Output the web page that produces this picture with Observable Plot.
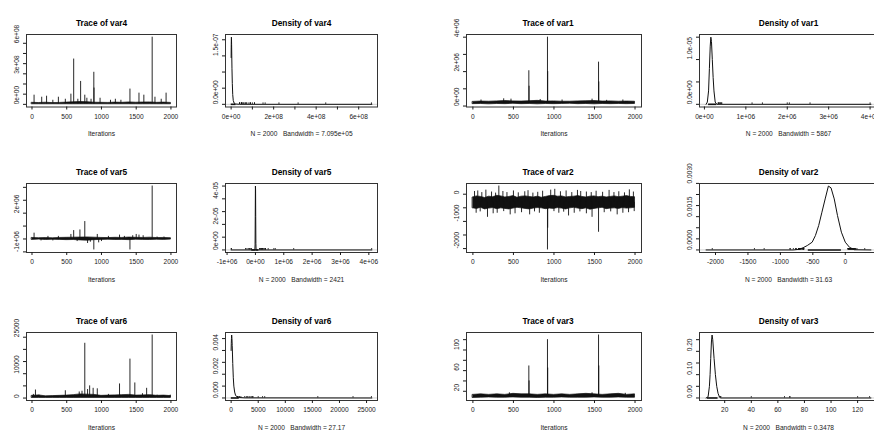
<!DOCTYPE html>
<html><head><meta charset="utf-8">
<script src="https://cdn.jsdelivr.net/npm/d3@7"></script>
<script src="https://cdn.jsdelivr.net/npm/@observablehq/plot@0.6"></script>
<style>
html,body{margin:0;padding:0;background:#fff;overflow:hidden;}
#wrap{position:relative;width:874px;height:434px;overflow:hidden;background:#fff;}
#wrap svg{position:absolute;overflow:visible;}
</style></head><body><div id="wrap"></div>
<script>
// ---------- iteration bins ----------
const bins100 = [0,100,200,300,400,500,600,700,800,900,1000,1100,1200,1300,1400,1500,1600,1700,1800,1900,2000];
const bins50 = [0,50,100,150,200,250,300,350,400,450,500,550,600,650,700,750,800,850,900,950,1000,1050,1100,1150,1200,1250,1300,1350,1400,1450,1500,1550,1600,1650,1700,1750,1800,1850,1900,1950,2000];
const iterTicks = [0,500,1000,1500,2000];
const iterLabels = ["0","500","1000","1500","2000"];

// ---------- var4 ----------
const var4Lo = [4e5,5e5,3e5,6e5,4e5,5e5,3e5,6e5,5e5,4e5,5e5,3e5,4e5,6e5,5e5,4e5,3e5,5e5,4e5,5e5,4e5];
const var4Hi = [1.5e7,1.3e7,1.6e7,1.2e7,1.4e7,1.7e7,2.0e7,2.3e7,2.1e7,1.6e7,1.5e7,1.4e7,1.7e7,1.5e7,1.9e7,1.6e7,1.8e7,1.9e7,1.5e7,1.7e7,1.4e7];
const var4SpikeIter = [30,140,210,300,380,480,560,600,660,700,760,790,850,890,893,980,1130,1200,1280,1410,1540,1610,1730,1770,1860,1930];
const var4SpikeVal = [0.9e8,0.7e8,0.8e8,0.4e8,0.7e8,0.5e8,1.0e8,4.45e8,0.5e8,2.25e8,0.9e8,0.6e8,0.5e8,3.15e8,1.6e8,0.6e8,0.4e8,0.5e8,0.4e8,1.5e8,1.1e8,0.9e8,6.6e8,0.7e8,0.5e8,1.1e8];
const var4Level = 5e6;
const var4DensX = [0,4e5,8e5,1.2e6,1.6e6,2.2e6,3e6,4e6,5.5e6,7.5e6,1e7,1.4e7,2e7,4e7,6.62e8];
const var4DensY = [1.45e-7,1.75e-7,1.95e-7,2.08e-7,2.05e-7,1.85e-7,1.5e-7,1.1e-7,0.65e-7,0.3e-7,0.12e-7,0.04e-7,0.01e-7,0,0];
const var4Bw = "7.095e+05";
const var4TraceYTicks = [0,1e8,2e8,3e8,4e8,5e8,6e8];
const var4TraceYLabels = ["0e+00","","","3e+08","","","6e+08"];
const var4DensXTicks = [0,1e8,2e8,3e8,4e8,5e8,6e8];
const var4DensXLabels = ["0e+00","","2e+08","","4e+08","","6e+08"];
const var4DensYTicks = [0,5e-8,1e-7,1.5e-7,2e-7];
const var4DensYLabels = ["0.0e+00","","","1.5e-07",""];

// ---------- var1 ----------
const var1Lo = [1.1e5,1.2e5,1.0e5,1.2e5,1.1e5,1.3e5,1.1e5,1.2e5,1.0e5,1.2e5,1.1e5,1.2e5,1.3e5,1.1e5,1.2e5,1.0e5,1.2e5,1.1e5,1.2e5,1.1e5,1.2e5];
const var1Hi = [2.4e5,2.6e5,2.5e5,2.7e5,2.9e5,2.7e5,2.6e5,2.8e5,3.0e5,2.6e5,2.7e5,2.5e5,2.5e5,2.7e5,2.8e5,2.9e5,2.6e5,2.7e5,2.5e5,2.6e5,2.5e5];
const var1SpikeIter = [100,380,470,690,693,830,920,923,1100,1470,1550,1553,1650,1850];
const var1SpikeVal = [0.35e6,0.42e6,0.4e6,2.05e6,1.15e6,0.38e6,4.0e6,2.0e6,0.35e6,0.4e6,2.55e6,1.4e6,0.33e6,0.35e6];
const var1Level = 1.8e5;
const var1DensX = [0.04e6,0.07e6,0.10e6,0.12e6,0.14e6,0.155e6,0.17e6,0.19e6,0.21e6,0.23e6,0.26e6,0.3e6,4.02e6];
const var1DensY = [0,0.05e-5,0.3e-5,0.8e-5,1.3e-5,1.5e-5,1.4e-5,1.0e-5,0.6e-5,0.3e-5,0.05e-5,0,0];
const var1Bw = "5867";
const var1TraceYTicks = [0,1e6,2e6,3e6,4e6];
const var1TraceYLabels = ["0e+00","","2e+06","","4e+06"];
const var1DensXTicks = [0,1e6,2e6,3e6,4e6];
const var1DensXLabels = ["0e+00","1e+06","2e+06","3e+06","4e+06"];
const var1DensYTicks = [0,5e-6,1e-5,1.5e-5];
const var1DensYLabels = ["0.0e+00","","1.0e-05",""];

// ---------- var5 ----------
const var5Lo = [-7e4,-5e4,-8e4,-6e4,-7e4,-9e4,-8e4,-1.1e5,-1.3e5,-9e4,-7e4,-6e4,-8e4,-7e4,-9e4,-6e4,-7e4,-8e4,-6e4,-7e4,-5e4];
const var5Hi = [8e4,6e4,7e4,5e4,8e4,9e4,1.0e5,1.1e5,1.2e5,1.0e5,8e4,7e4,9e4,8e4,1.1e5,9e4,8e4,1.0e5,7e4,8e4,6e4];
const var5SpikeIter = [30,130,230,300,380,560,600,650,690,760,800,840,890,940,960,1000,1100,1260,1330,1410,1450,1500,1540,1600,1730,1800,1900];
const var5SpikeVal = [0.45e6,-0.15e6,0.2e6,-0.15e6,0.2e6,0.35e6,0.65e6,-0.2e6,0.7e6,1.35e6,-0.35e6,-0.25e6,-0.85e6,0.35e6,-0.3e6,-0.2e6,0.2e6,0.3e6,0.2e6,-0.85e6,0.25e6,0.35e6,0.3e6,0.25e6,4.1e6,0.15e6,0.15e6];
const var5Level = 0;
const var5DensX = [-0.857e6,-2e4,-1.2e4,-6e3,0,5e3,1e4,1.6e4,2.4e4,4.107e6];
const var5DensY = [0,0,0.4e-5,2.6e-5,5.0e-5,4.7e-5,2.6e-5,0.5e-5,0,0];
const var5Bw = "2421";
const var5TraceYTicks = [-1e6,0,1e6,2e6,3e6,4e6];
const var5TraceYLabels = ["-1e+06","","","2e+06","",""];
const var5DensXTicks = [-1e6,0,1e6,2e6,3e6,4e6];
const var5DensXLabels = ["-1e+06","0e+00","1e+06","2e+06","3e+06","4e+06"];
const var5DensYTicks = [0,1e-5,2e-5,3e-5,4e-5,5e-5];
const var5DensYLabels = ["0e+00","","2e-05","","4e-05",""];

// ---------- var2 ----------
const var2Lo = [-520,-540,-500,-560,-530,-510,-550,-520,-540,-560,-530,-500,-520,-540,-560,-530,-510,-520,-550,-530,-540,-510,-530,-560,-520,-500,-530,-550,-520,-570,-540,-520,-500,-550,-530,-520,-540,-510,-530,-520,-500];
const var2Hi = [-120,-80,-100,-140,-90,-110,-60,-80,-120,-100,-70,-130,-90,-80,-100,-120,-90,-130,-100,-70,-60,-90,-80,-120,-100,-90,-70,-100,-120,-90,-80,-110,-90,-120,-100,-80,-110,-90,-70,-100,-110];
const var2SpikeIter = [20,60,110,160,230,280,320,370,420,500,560,640,680,740,800,860,960,1010,1080,1150,1220,1290,1330,1400,1460,1520,1600,1680,1740,1800,1870,1930,1980,
  40,90,180,250,300,380,460,520,600,700,760,820,920,923,1000,1060,1120,1180,1250,1320,1400,1470,1550,1620,1700,1780,1850,1920,1990];
const var2SpikeVal = [100,120,60,150,80,40,300,100,60,120,50,90,130,40,70,110,150,180,90,120,60,140,100,80,60,110,70,140,60,90,50,160,80,
  -700,-650,-850,-720,-700,-640,-760,-720,-680,-760,-650,-700,-2050,-1250,-640,-700,-660,-800,-700,-650,-720,-850,-1400,-680,-650,-760,-700,-680,-640];
const var2Level = -300;
const var2DensX = [-2145,-800,-710,-650,-585,-510,-460,-410,-360,-310,-260,-220,-170,-120,-60,0,65,140,395];
const var2DensY = [0,0,0.00003,0.0001,0.0002,0.00035,0.00065,0.0011,0.0017,0.0023,0.00288,0.0028,0.0023,0.00155,0.0008,0.00035,0.00012,0.00001,0];
const var2Bw = "31.63";
const var2TraceYTicks = [-2000,-1500,-1000,-500,0];
const var2TraceYLabels = ["-2000","","-1000","","0"];
const var2DensXTicks = [-2000,-1500,-1000,-500,0];
const var2DensXLabels = ["-2000","-1500","-1000","-500","0"];
const var2DensYTicks = [0,0.0005,0.001,0.0015,0.002,0.0025,0.003];
const var2DensYLabels = ["0.0000","","","0.0015","","","0.0030"];

// ---------- var6 ----------
const var6Lo = [40,50,30,60,40,50,30,60,50,40,50,30,40,60,50,40,30,50,40,50,40];
const var6Hi = [900,1100,700,800,900,1000,1200,1500,1400,1300,900,1000,1100,1200,1300,1000,1100,1200,900,1000,800];
const var6SpikeIter = [20,50,100,480,680,720,760,800,830,880,940,1100,1260,1410,1480,1590,1650,1730,1800,1990];
const var6SpikeVal = [1500,3300,1200,3000,2500,2800,22500,3500,5000,4000,3800,1500,5800,16000,6200,1800,4000,25900,1200,1200];
const var6Level = 300;
const var6DensX = [0,30,60,100,150,200,250,300,400,500,650,800,1000,1500,2500,25980];
const var6DensY = [0.0040,0.0046,0.0050,0.0053,0.0050,0.0044,0.0037,0.0029,0.0017,0.0010,0.0005,0.00025,0.00012,0.00004,0.00001,0];
const var6Bw = "27.17";
const var6TraceYTicks = [0,5000,10000,15000,20000,25000];
const var6TraceYLabels = ["0","","10000","","","25000"];
const var6DensXTicks = [0,5000,10000,15000,20000,25000];
const var6DensXLabels = ["0","5000","10000","15000","20000","25000"];
const var6DensYTicks = [0,0.001,0.002,0.003,0.004,0.005];
const var6DensYLabels = ["0.000","","0.002","","0.004",""];

// ---------- var3 ----------
const var3Lo = [7,7.5,8,7.5,7.5,8,7.5,7.5,7,7.5,7.5,8,7.5,7.5,7.5,8,7.5,7.5,8,7.5,7.5];
const var3Hi = [13,14,13,14,13,15,14,14,13,14,13,14,13,14,15,14,13,14,15,13,14];
const var3SpikeIter = [450,690,693,920,923,1470,1550,1553,1880];
const var3SpikeVal = [17,69,40,120,65,17,129,69,16];
const var3Level = 10;
const var3DensX = [6,7.5,8.5,9.0,9.5,10,10.5,11,11.5,12,13,14,15,16,17,130];
const var3DensY = [0,0.005,0.05,0.1,0.17,0.24,0.27,0.25,0.21,0.17,0.1,0.05,0.02,0.005,0,0];
const var3Bw = "0.3478";
const var3TraceYTicks = [20,40,60,80,100,120];
const var3TraceYLabels = ["20","","60","","100",""];
const var3DensXTicks = [20,40,60,80,100,120];
const var3DensXLabels = ["20","40","60","80","100","120"];
const var3DensYTicks = [0,0.05,0.1,0.15,0.2,0.25];
const var3DensYLabels = ["0.00","","0.10","","0.20",""];

const N = 2000;

// ---------- layout (page px of plot boxes) ----------
const colBox = [[26,176],[225,377],[466,641],[699,877]];
const colTitleShift = [0,0,-6,0];
const rowBox = [[34,106.5],[183,252],[332,400]];
const FONT = "'Liberation Sans', Arial, Helvetica, sans-serif";
const INK = "#1a1a1a";

function extend(ext) { const r = ext[1]-ext[0]; return [ext[0]-0.04*r, ext[1]+0.04*r]; }

function panel(col, row, o) {
  const [L,R] = colBox[col], [T,B] = rowBox[row];
  const mL=34, mR=8, mT=24, mB=38;
  const xMap = new Map(o.xTicks.map((t,i)=>[t,o.xLabels[i]]));
  const yLab = o.yTicks.map((t,i)=>({v:t, t:o.yLabels[i]})).filter(d=>d.t);
  const svg = Plot.plot({
    width: R-L+mL+mR, height: B-T+mT+mB,
    marginLeft: mL, marginRight: mR, marginTop: mT, marginBottom: mB,
    x: {domain: o.xDomain}, y: {domain: o.yDomain},
    style: {background:"transparent", overflow:"visible", fontFamily: FONT, color: INK},
    marks: [
      ...o.marks,
      Plot.frame({stroke:"#333", strokeWidth:1}),
      Plot.axisX({ticks:o.xTicks, tickFormat:d=>xMap.get(d), tickSize:3, tickPadding:4, fontSize:6.6, label:null}),
      Plot.axisY({ticks:o.yTicks, tickFormat:()=>"", tickSize:3, label:null}),
      Plot.text(yLab, {y:"v", text:"t", frameAnchor:"left", rotate:-90, dx:-10, fontSize:6.6, fill:INK}),
      Plot.text([o.title], {text:d=>d, frameAnchor:"top", dy:-14, dx:colTitleShift[col], fontWeight:"bold", fontSize:8.3, fill:"#000"}),
      Plot.text([o.xTitle], {text:d=>d, frameAnchor:"bottom", dy:29, fontSize:6.6, fill:INK})
    ]
  });
  svg.style.left = (L-mL)+"px";
  svg.style.top = (T-mT)+"px";
  document.getElementById("wrap").appendChild(svg);
}

function tracePanel(col, row, name, bins, lo, hi, sIter, sVal, level, yTicks, yLabels) {
  const band = bins.map((b,i)=>({i:b, lo:lo[i], hi:hi[i]}));
  const spikes = sIter.map((s,i)=>({i:s, v:sVal[i]}));
  const allY = lo.concat(hi, sVal);
  panel(col, row, {
    xDomain: extend([1, N]), yDomain: extend(d3.extent(allY)),
    xTicks: iterTicks, xLabels: iterLabels, yTicks, yLabels,
    title: "Trace of " + name, xTitle: "Iterations",
    marks: [
      Plot.areaY(band, {x:"i", y1:"lo", y2:"hi", fill:"#111", stroke:"#111", strokeWidth:0.7}),
      Plot.ruleX(spikes, {x:"i", y1:level, y2:"v", stroke:"#111", strokeWidth:0.9})
    ]
  });
}

function densPanel(col, row, name, dx, dy, lo, hi, sVal, bw, xTicks, xLabels, yTicks, yLabels) {
  const dens = dx.map((x,i)=>({x, y:dy[i]}));
  const maxY = d3.max(dy);
  const obsLo = d3.min(lo), obsHi = d3.max(hi);
  panel(col, row, {
    xDomain: extend(d3.extent(dx)), yDomain: extend([0, maxY]),
    xTicks, xLabels, yTicks, yLabels,
    title: "Density of " + name,
    xTitle: "N = " + N + "\u00a0\u00a0 Bandwidth = " + bw,
    marks: [
      Plot.ruleY([0], {stroke:"#b0b0b0", strokeWidth:0.6}),
      Plot.ruleY([0], {x1:obsLo, x2:obsHi, y:0, stroke:"#111", strokeWidth:1.6}),
      Plot.ruleX(sVal, {x:d=>d, y1:0, y2:maxY*0.02, stroke:"#111", strokeWidth:1}),
      Plot.line(dens, {x:"x", y:"y", stroke:"#111", strokeWidth:1})
    ]
  });
}

tracePanel(0,0,"var4",bins100,var4Lo,var4Hi,var4SpikeIter,var4SpikeVal,var4Level,var4TraceYTicks,var4TraceYLabels);
densPanel(1,0,"var4",var4DensX,var4DensY,var4Lo,var4Hi,var4SpikeVal,var4Bw,var4DensXTicks,var4DensXLabels,var4DensYTicks,var4DensYLabels);
tracePanel(2,0,"var1",bins100,var1Lo,var1Hi,var1SpikeIter,var1SpikeVal,var1Level,var1TraceYTicks,var1TraceYLabels);
densPanel(3,0,"var1",var1DensX,var1DensY,var1Lo,var1Hi,var1SpikeVal,var1Bw,var1DensXTicks,var1DensXLabels,var1DensYTicks,var1DensYLabels);

tracePanel(0,1,"var5",bins100,var5Lo,var5Hi,var5SpikeIter,var5SpikeVal,var5Level,var5TraceYTicks,var5TraceYLabels);
densPanel(1,1,"var5",var5DensX,var5DensY,var5Lo,var5Hi,var5SpikeVal,var5Bw,var5DensXTicks,var5DensXLabels,var5DensYTicks,var5DensYLabels);
tracePanel(2,1,"var2",bins50,var2Lo,var2Hi,var2SpikeIter,var2SpikeVal,var2Level,var2TraceYTicks,var2TraceYLabels);
densPanel(3,1,"var2",var2DensX,var2DensY,var2Lo,var2Hi,var2SpikeVal,var2Bw,var2DensXTicks,var2DensXLabels,var2DensYTicks,var2DensYLabels);

tracePanel(0,2,"var6",bins100,var6Lo,var6Hi,var6SpikeIter,var6SpikeVal,var6Level,var6TraceYTicks,var6TraceYLabels);
densPanel(1,2,"var6",var6DensX,var6DensY,var6Lo,var6Hi,var6SpikeVal,var6Bw,var6DensXTicks,var6DensXLabels,var6DensYTicks,var6DensYLabels);
tracePanel(2,2,"var3",bins100,var3Lo,var3Hi,var3SpikeIter,var3SpikeVal,var3Level,var3TraceYTicks,var3TraceYLabels);
densPanel(3,2,"var3",var3DensX,var3DensY,var3Lo,var3Hi,var3SpikeVal,var3Bw,var3DensXTicks,var3DensXLabels,var3DensYTicks,var3DensYLabels);
</script></body></html>
